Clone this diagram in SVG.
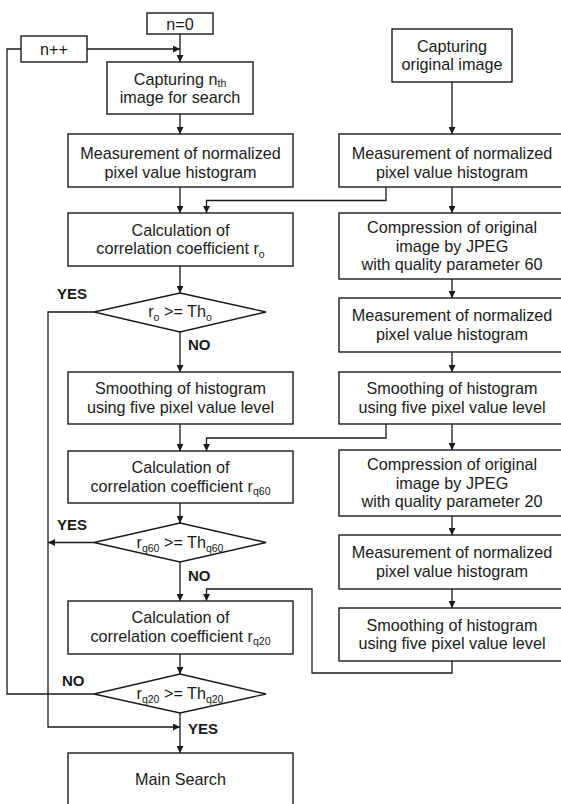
<svg xmlns="http://www.w3.org/2000/svg" width="561" height="804" viewBox="0 0 561 804">
<defs>
<style>
.box{fill:#fff;stroke:#1a1a1a;stroke-width:1.4}
.t{font-family:"Liberation Sans",Arial,sans-serif;font-size:16.2px;fill:#1a1a1a;text-anchor:middle}
.s{font-size:10.5px}
.lbl{font-family:"Liberation Sans",Arial,sans-serif;font-size:15px;font-weight:bold;fill:#1a1a1a}
.c{fill:none;stroke:#1a1a1a;stroke-width:1.3}
</style>
<marker id="ah" viewBox="0 0 10 10" refX="10" refY="5" markerWidth="7" markerHeight="7" markerUnits="userSpaceOnUse" orient="auto">
<path d="M0,0 L10,5 L0,10 z" fill="#1a1a1a"/>
</marker>
</defs>
<rect width="561" height="804" fill="#fff"/>

<g id="connectors">
<path class="c" d="M180,34 V62" marker-end="url(#ah)"/>
<path class="c" d="M87,49 H180" marker-end="url(#ah)"/>
<path class="c" d="M180,114 V134" marker-end="url(#ah)"/>
<path class="c" d="M180,187 V213" marker-end="url(#ah)"/>
<path class="c" d="M452,82 V134" marker-end="url(#ah)"/>
<path class="c" d="M386,187 V200.5 H206.5 V213" marker-end="url(#ah)"/>
<path class="c" d="M452,187 V213" marker-end="url(#ah)"/>
<path class="c" d="M180,266 V293" marker-end="url(#ah)"/>
<path class="c" d="M180,332 V372" marker-end="url(#ah)"/>
<path class="c" d="M94,312 H48 V727 H180" marker-end="url(#ah)"/>
<path class="c" d="M452,279 V298" marker-end="url(#ah)"/>
<path class="c" d="M452,352 V372" marker-end="url(#ah)"/>
<path class="c" d="M180,424 V451" marker-end="url(#ah)"/>
<path class="c" d="M386,424 V438 H206.5 V451" marker-end="url(#ah)"/>
<path class="c" d="M452,424 V450" marker-end="url(#ah)"/>
<path class="c" d="M180,503 V523" marker-end="url(#ah)"/>
<path class="c" d="M94,542.5 H48" marker-end="url(#ah)"/>
<path class="c" d="M180,562 V601" marker-end="url(#ah)"/>
<path class="c" d="M452,516 V535" marker-end="url(#ah)"/>
<path class="c" d="M452,589 V608" marker-end="url(#ah)"/>
<path class="c" d="M452,661 V673 H312 V589 H206.5 V601" marker-end="url(#ah)"/>
<path class="c" d="M180,654 V674" marker-end="url(#ah)"/>
<path class="c" d="M94,694 H7 V49 H21"/>
<path class="c" d="M180,713 V753" marker-end="url(#ah)"/>
</g>

<g id="n0"><rect class="box" x="147" y="13" width="66" height="21"/><text class="t" x="180" y="29.5">n=0</text></g>
<g id="ninc"><rect class="box" x="21" y="36" width="66" height="26"/><text class="t" x="54" y="54.5">n++</text></g>
<g id="capture-n"><rect class="box" x="107" y="62" width="146" height="52"/>
<text class="t" x="180" y="84.5">Capturing n<tspan class="s" dy="2">th</tspan></text>
<text class="t" x="180" y="103">image for search</text></g>
<g id="measure-l"><rect class="box" x="68" y="134" width="225" height="53"/>
<text class="t" x="180.5" y="159">Measurement of normalized</text>
<text class="t" x="180.5" y="177.5">pixel value histogram</text></g>
<g id="calc-o"><rect class="box" x="68" y="213" width="225" height="53"/>
<text class="t" x="180.5" y="235.5">Calculation of</text>
<text class="t" x="180.5" y="254">correlation coefficient r<tspan class="s" dy="3.5">o</tspan></text></g>
<g id="dec-o"><polygon class="box" points="180,293 266,312 180,332 94,312"/>
<text class="t" x="180" y="317">r<tspan class="s" dy="4">o</tspan><tspan dy="-4"> &gt;= Th</tspan><tspan class="s" dy="4">o</tspan></text></g>
<g id="smooth-l"><rect class="box" x="68" y="372" width="225" height="52"/>
<text class="t" x="180.5" y="394">Smoothing of histogram</text>
<text class="t" x="180.5" y="412.5">using five pixel value level</text></g>
<g id="calc-q60"><rect class="box" x="68" y="451" width="225" height="52"/>
<text class="t" x="180.5" y="473">Calculation of</text>
<text class="t" x="180.5" y="491.5">correlation coefficient r<tspan class="s" dy="3.5">q60</tspan></text></g>
<g id="dec-q60"><polygon class="box" points="180,523 266,542.5 180,562 94,542.5"/>
<text class="t" x="180" y="547.5">r<tspan class="s" dy="4">q60</tspan><tspan dy="-4"> &gt;= Th</tspan><tspan class="s" dy="4">q60</tspan></text></g>
<g id="calc-q20"><rect class="box" x="68" y="601" width="225" height="53"/>
<text class="t" x="180.5" y="623">Calculation of</text>
<text class="t" x="180.5" y="641.5">correlation coefficient r<tspan class="s" dy="3.5">q20</tspan></text></g>
<g id="dec-q20"><polygon class="box" points="180,674 266,694 180,713 94,694"/>
<text class="t" x="180" y="699">r<tspan class="s" dy="4">q20</tspan><tspan dy="-4"> &gt;= Th</tspan><tspan class="s" dy="4">q20</tspan></text></g>
<g id="main-search"><rect class="box" x="68" y="753" width="225" height="70"/>
<text class="t" x="180.5" y="785">Main Search</text></g>

<g id="capture-orig"><rect class="box" x="392" y="29" width="120" height="53"/>
<text class="t" x="452" y="51.5">Capturing</text>
<text class="t" x="452" y="70">original image</text></g>
<g id="measure-r1"><rect class="box" x="339" y="134" width="226" height="53"/>
<text class="t" x="452" y="159">Measurement of normalized</text>
<text class="t" x="452" y="177.5">pixel value histogram</text></g>
<g id="jpeg60"><rect class="box" x="339" y="213" width="226" height="66"/>
<text class="t" x="452" y="233">Compression of original</text>
<text class="t" x="452" y="251.5">image by JPEG</text>
<text class="t" x="452" y="270">with quality parameter 60</text></g>
<g id="measure-r2"><rect class="box" x="339" y="298" width="226" height="54"/>
<text class="t" x="452" y="321">Measurement of normalized</text>
<text class="t" x="452" y="340">pixel value histogram</text></g>
<g id="smooth-r1"><rect class="box" x="339" y="372" width="226" height="52"/>
<text class="t" x="452" y="394">Smoothing of histogram</text>
<text class="t" x="452" y="412.5">using five pixel value level</text></g>
<g id="jpeg20"><rect class="box" x="339" y="450" width="226" height="66"/>
<text class="t" x="452" y="470">Compression of original</text>
<text class="t" x="452" y="488.5">image by JPEG</text>
<text class="t" x="452" y="507">with quality parameter 20</text></g>
<g id="measure-r3"><rect class="box" x="339" y="535" width="226" height="54"/>
<text class="t" x="452" y="558">Measurement of normalized</text>
<text class="t" x="452" y="577">pixel value histogram</text></g>
<g id="smooth-r2"><rect class="box" x="339" y="608" width="226" height="53"/>
<text class="t" x="452" y="630.5">Smoothing of histogram</text>
<text class="t" x="452" y="649">using five pixel value level</text></g>

<g id="labels">
<text class="lbl" x="57" y="299">YES</text>
<text class="lbl" x="188" y="349.5">NO</text>
<text class="lbl" x="57" y="529.5">YES</text>
<text class="lbl" x="188" y="581">NO</text>
<text class="lbl" x="62" y="686">NO</text>
<text class="lbl" x="188" y="733.5">YES</text>
</g>
</svg>
